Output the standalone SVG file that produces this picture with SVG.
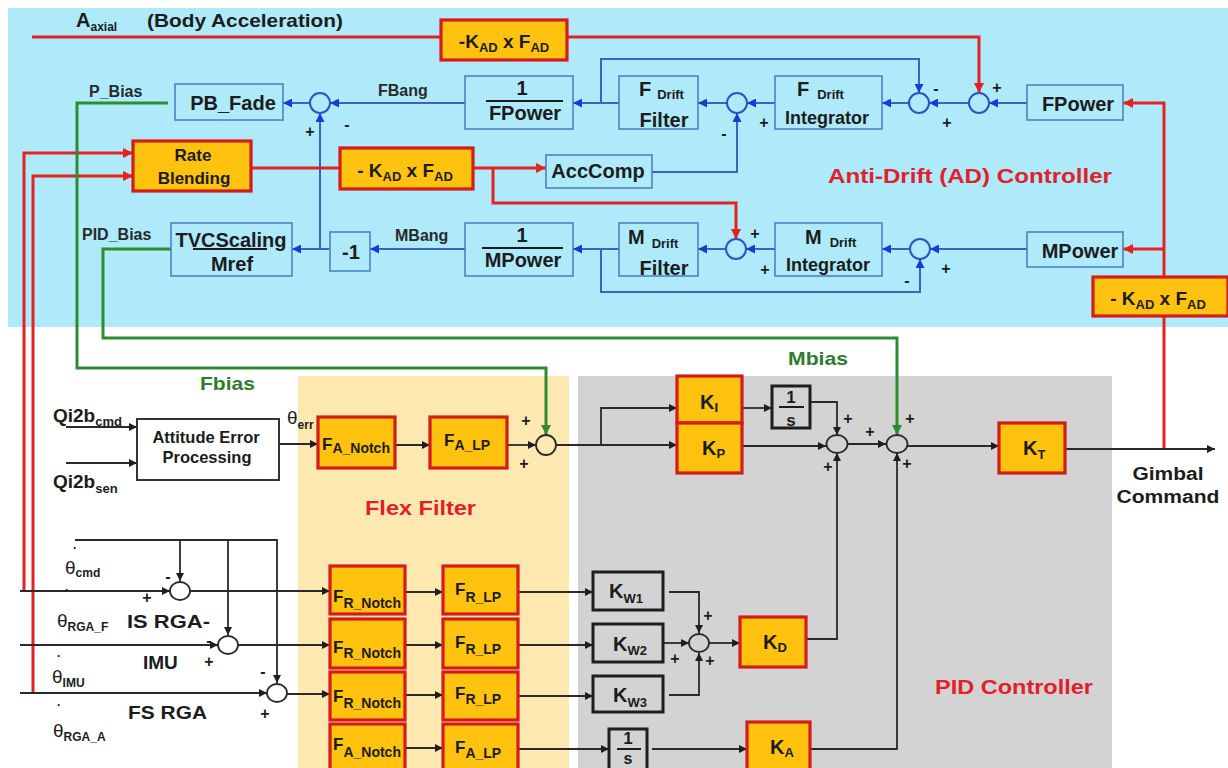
<svg xmlns="http://www.w3.org/2000/svg" width="1228" height="768" viewBox="0 0 1228 768">
<defs>
<style>
text{font-family:"Liberation Sans",Arial,sans-serif;font-weight:bold;fill:#1c1c1c}
.ad{fill:none;stroke:#4a82c8;stroke-width:1.6}
.og{fill:#ffc20e;stroke:#d41c1c;stroke-width:3.2}
.kb{fill:none;stroke:#1e1e1e;stroke-width:3}
.wb{fill:#fff;stroke:#333;stroke-width:2}
.bl{fill:none;stroke:#3a64c4;stroke-width:2}
.rd{fill:none;stroke:#e32222;stroke-width:3}
.gr{fill:none;stroke:#2e8b2e;stroke-width:3}
.dk{fill:none;stroke:#2a2a2a;stroke-width:1.8}
.sb{fill:none;stroke:#2a55c0;stroke-width:2}
.sk{fill:none;stroke:#2a2a2a;stroke-width:1.8}
.sg{font-size:16px;text-anchor:middle}
.lab{font-size:16px;fill:#2a2a2a}
.th{font-weight:normal;font-size:19px}
.dot{font-weight:bold;font-size:12px}
.ttl{fill:#e0202a}
.grn{fill:#2e7d2e}
</style>
<marker id="ab" viewBox="0 0 10 10" refX="10" refY="5" markerWidth="9" markerHeight="9" markerUnits="userSpaceOnUse" orient="auto"><path d="M0,0 L10,5 L0,10 z" fill="#1a3ad6"/></marker>
<marker id="ar" viewBox="0 0 10 10" refX="10" refY="5" markerWidth="10" markerHeight="10" markerUnits="userSpaceOnUse" orient="auto"><path d="M0,0 L10,5 L0,10 z" fill="#e32222"/></marker>
<marker id="ag" viewBox="0 0 10 10" refX="10" refY="5" markerWidth="10" markerHeight="10" markerUnits="userSpaceOnUse" orient="auto"><path d="M0,0 L10,5 L0,10 z" fill="#2e8b2e"/></marker>
<marker id="ak" viewBox="0 0 10 10" refX="10" refY="5" markerWidth="9" markerHeight="8" markerUnits="userSpaceOnUse" orient="auto"><path d="M0,0 L10,5 L0,10 z" fill="#1e1e1e"/></marker>
</defs>

<g id="regions">
<rect x="0" y="0" width="1228" height="768" fill="#ffffff"/>
<rect x="8" y="8" width="1220" height="319" fill="#aeeafa"/>
<rect x="298" y="376" width="271" height="392" fill="#fde9b0"/>
<rect x="578" y="376" width="534" height="392" fill="#d3d3d3"/>
</g>

<g id="connectors">
<path class="bl" d="M1027,103 H989" marker-end="url(#ab)"/>
<path class="bl" d="M969,103 H929" marker-end="url(#ab)"/>
<path class="bl" d="M909,103 H882" marker-end="url(#ab)"/>
<path class="bl" d="M601,103 V59 H919 V93" marker-end="url(#ab)"/>
<path class="bl" d="M775,103 H747" marker-end="url(#ab)"/>
<path class="bl" d="M727,103 H698" marker-end="url(#ab)"/>
<path class="bl" d="M652,172 H737 V113" marker-end="url(#ab)"/>
<path class="bl" d="M619,103 H573" marker-end="url(#ab)"/>
<path class="bl" d="M465,103 H330" marker-end="url(#ab)"/>
<path class="bl" d="M310,103 H283" marker-end="url(#ab)"/>
<path class="bl" d="M320,249 V113" marker-end="url(#ab)"/>
<path class="bl" d="M1027,249 H930" marker-end="url(#ab)"/>
<path class="bl" d="M910,249 H882" marker-end="url(#ab)"/>
<path class="bl" d="M601,249 V292 H920 V259" marker-end="url(#ab)"/>
<path class="bl" d="M775,249 H746" marker-end="url(#ab)"/>
<path class="bl" d="M726,249 H698" marker-end="url(#ab)"/>
<path class="bl" d="M619,249 H573" marker-end="url(#ab)"/>
<path class="bl" d="M465,249 H370" marker-end="url(#ab)"/>
<path class="bl" d="M330,249 H292" marker-end="url(#ab)"/>

<path class="rd" d="M32,37 H441"/>
<path class="rd" d="M567,37 H979 V93" marker-end="url(#ar)"/>
<path class="rd" d="M1164,449 V103 H1123" marker-end="url(#ar)"/>
<path class="rd" d="M1164,249 H1123" marker-end="url(#ar)"/>
<path class="rd" d="M24,591 V153 H133" marker-end="url(#ar)"/>
<path class="rd" d="M33,693 V176 H133" marker-end="url(#ar)"/>
<path class="rd" d="M251,168 H340"/>
<path class="rd" d="M473,168 H546" marker-end="url(#ar)"/>
<path class="rd" d="M493,168 V203 H736 V239" marker-end="url(#ar)"/>

<path class="gr" d="M168,103 H77 V368 H546 V435" marker-end="url(#ag)"/>
<path class="gr" d="M171,249 H103 V338 H897 V435" marker-end="url(#ag)"/>

<path class="dk" d="M66,427 H137" marker-end="url(#ak)"/>
<path class="dk" d="M66,463 H137" marker-end="url(#ak)"/>
<path class="dk" d="M279,444 H318" marker-end="url(#ak)"/>
<path class="dk" d="M395,445 H430" marker-end="url(#ak)"/>
<path class="dk" d="M507,445 H536" marker-end="url(#ak)"/>
<path class="dk" d="M556,445 H677" marker-end="url(#ak)"/>
<path class="dk" d="M601,445 V408 H677" marker-end="url(#ak)"/>
<path class="dk" d="M742,408 H772" marker-end="url(#ak)"/>
<path class="dk" d="M810,402 H837 V435" marker-end="url(#ak)"/>
<path class="dk" d="M742,446 H826" marker-end="url(#ak)"/>
<path class="dk" d="M806,639 H837 V453" marker-end="url(#ak)"/>
<path class="dk" d="M848,444 H886" marker-end="url(#ak)"/>
<path class="dk" d="M810,749 H897 V453" marker-end="url(#ak)"/>
<path class="dk" d="M908,446 H999" marker-end="url(#ak)"/>
<path class="dk" d="M1065,449 H1215" marker-end="url(#ak)"/>
<path class="dk" d="M75,540 H277 V683" marker-end="url(#ak)"/>
<path class="dk" d="M180,540 V581" marker-end="url(#ak)"/>
<path class="dk" d="M228,540 V635" marker-end="url(#ak)"/>
<path class="dk" d="M20,591 H170" marker-end="url(#ak)"/>
<path class="dk" d="M20,645 H218" marker-end="url(#ak)"/>
<path class="dk" d="M20,693 H267" marker-end="url(#ak)"/>
<path class="dk" d="M190,591 H330" marker-end="url(#ak)"/>
<path class="dk" d="M238,645 H330" marker-end="url(#ak)"/>
<path class="dk" d="M287,694 H330" marker-end="url(#ak)"/>
<path class="dk" d="M405,592 H443" marker-end="url(#ak)"/>
<path class="dk" d="M405,645 H443" marker-end="url(#ak)"/>
<path class="dk" d="M405,695 H443" marker-end="url(#ak)"/>
<path class="dk" d="M405,748 H443" marker-end="url(#ak)"/>
<path class="dk" d="M518,592 H593" marker-end="url(#ak)"/>
<path class="dk" d="M518,645 H593" marker-end="url(#ak)"/>
<path class="dk" d="M518,696 H593" marker-end="url(#ak)"/>
<path class="dk" d="M669,592 H699 V633" marker-end="url(#ak)"/>
<path class="dk" d="M663,643 H689" marker-end="url(#ak)"/>
<path class="dk" d="M669,695 H699 V653" marker-end="url(#ak)"/>
<path class="dk" d="M709,643 H740" marker-end="url(#ak)"/>
<path class="dk" d="M518,749 H609" marker-end="url(#ak)"/>
<path class="dk" d="M652,749 H747" marker-end="url(#ak)"/>
</g>

<g id="labels">
<text x="76" y="27" font-size="20">A<tspan font-size="12" dy="4">axial</tspan></text>
<text x="147" y="27" font-size="19" textLength="196" lengthAdjust="spacingAndGlyphs">(Body Acceleration)</text>
<text class="ttl" x="828" y="183" font-size="21" textLength="284" lengthAdjust="spacingAndGlyphs">Anti-Drift (AD) Controller</text>
<text class="ttl" x="365" y="515" font-size="20" textLength="111" lengthAdjust="spacingAndGlyphs">Flex Filter</text>
<text class="ttl" x="935" y="694" font-size="20" textLength="158" lengthAdjust="spacingAndGlyphs">PID Controller</text>
<text class="lab" x="89" y="97">P_Bias</text>
<text class="lab" x="82" y="240">PID_Bias</text>
<text class="lab" x="378" y="96">FBang</text>
<text class="lab" x="395" y="241">MBang</text>
<text class="grn" x="200" y="390" font-size="19" textLength="55" lengthAdjust="spacingAndGlyphs">Fbias</text>
<text class="grn" x="788" y="365" font-size="19" textLength="60" lengthAdjust="spacingAndGlyphs">Mbias</text>
<text x="53" y="422" font-size="19">Qi2b<tspan font-size="13" dy="4">cmd</tspan></text>
<text x="53" y="488" font-size="19">Qi2b<tspan font-size="13" dy="5">sen</tspan></text>
<text x="287" y="424"><tspan class="th">θ</tspan><tspan font-size="12" dy="5">err</tspan></text>
<text x="1168" y="480" font-size="18" text-anchor="middle" textLength="71" lengthAdjust="spacingAndGlyphs">Gimbal</text>
<text x="1168" y="503" font-size="18" text-anchor="middle" textLength="103" lengthAdjust="spacingAndGlyphs">Command</text>
<text class="dot" x="73" y="549">.</text>
<text x="65" y="574"><tspan class="th">θ</tspan><tspan font-size="12" dy="3">cmd</tspan></text>
<text class="dot" x="65" y="591" font-size="10">.</text>
<text x="57" y="627"><tspan class="th">θ</tspan><tspan font-size="12" dy="4">RGA_F</tspan></text>
<text x="127" y="628" font-size="19" textLength="83" lengthAdjust="spacingAndGlyphs">IS RGA-</text>
<text class="dot" x="57" y="657">.</text>
<text x="52" y="683"><tspan class="th">θ</tspan><tspan font-size="12" dy="4">IMU</tspan></text>
<text x="143" y="669" font-size="19">IMU</text>
<text class="dot" x="57" y="706">.</text>
<text x="53" y="737"><tspan class="th">θ</tspan><tspan font-size="12" dy="4">RGA_A</tspan></text>
<text x="128" y="719" font-size="19" textLength="79" lengthAdjust="spacingAndGlyphs">FS RGA</text>
</g>

<g id="signs">
<text class="sg" x="997" y="93">+</text>
<text class="sg" x="936" y="94">-</text>
<text class="sg" x="947" y="128">+</text>
<text class="sg" x="764" y="128">+</text>
<text class="sg" x="724" y="139">-</text>
<text class="sg" x="310" y="137">+</text>
<text class="sg" x="347" y="130">-</text>
<text class="sg" x="946" y="274">+</text>
<text class="sg" x="907" y="286">-</text>
<text class="sg" x="755" y="239">+</text>
<text class="sg" x="765" y="275">+</text>
<text class="sg" x="526" y="426">+</text>
<text class="sg" x="524" y="469">+</text>
<text class="sg" x="848" y="424">+</text>
<text class="sg" x="828" y="472">+</text>
<text class="sg" x="870" y="437">+</text>
<text class="sg" x="910" y="424">+</text>
<text class="sg" x="907" y="469">+</text>
<text class="sg" x="168" y="582">-</text>
<text class="sg" x="147" y="603">+</text>
<text class="sg" x="209" y="646">-</text>
<text class="sg" x="209" y="667">+</text>
<text class="sg" x="263" y="677">-</text>
<text class="sg" x="265" y="719">+</text>
<text class="sg" x="708" y="621">+</text>
<text class="sg" x="675" y="664">+</text>
<text class="sg" x="710" y="666">+</text>
</g>

<g id="sums">
<circle class="sb" cx="979" cy="103" r="10"/>
<circle class="sb" cx="919" cy="103" r="10"/>
<circle class="sb" cx="737" cy="103" r="10"/>
<circle class="sb" cx="320" cy="103" r="10"/>
<circle class="sb" cx="920" cy="249" r="10"/>
<circle class="sb" cx="736" cy="249" r="10"/>
<ellipse class="sk" cx="546" cy="445" rx="10" ry="10"/>
<ellipse class="sk" cx="837" cy="444" rx="10.5" ry="9"/>
<ellipse class="sk" cx="897" cy="444" rx="10.5" ry="9"/>
<ellipse class="sk" cx="180" cy="591" rx="10" ry="9"/>
<ellipse class="sk" cx="228" cy="645" rx="10" ry="9"/>
<ellipse class="sk" cx="277" cy="693" rx="10" ry="9"/>
<ellipse class="sk" cx="699" cy="643" rx="10" ry="9"/>
</g>

<g id="kad-top"><rect class="og" x="441" y="20" width="126" height="40"/>
<text x="504" y="48" text-anchor="middle" font-size="19">-K<tspan font-size="13" dy="4">AD</tspan><tspan dy="-4"> x F</tspan><tspan font-size="13" dy="4">AD</tspan></text></g>
<g id="kad-mid"><rect class="og" x="340" y="148" width="133" height="41"/>
<text x="405" y="177" text-anchor="middle" font-size="19">- K<tspan font-size="13" dy="4">AD</tspan><tspan dy="-4"> x F</tspan><tspan font-size="13" dy="4">AD</tspan></text></g>
<g id="kad-right"><rect class="og" x="1093" y="277" width="135" height="39"/>
<text x="1158" y="305" text-anchor="middle" font-size="19">- K<tspan font-size="13" dy="4">AD</tspan><tspan dy="-4"> x F</tspan><tspan font-size="13" dy="4">AD</tspan></text></g>

<g id="fpower"><rect class="ad" x="1027" y="85" width="96" height="35"/><text x="1078" y="111" text-anchor="middle" font-size="20">FPower</text></g>
<g id="mpower"><rect class="ad" x="1027" y="232" width="96" height="35"/><text x="1080" y="258" text-anchor="middle" font-size="20">MPower</text></g>
<g id="fdrift-int"><rect class="ad" x="775" y="76" width="107" height="53"/>
<text x="797" y="96" font-size="20">F<tspan font-size="13" dx="8" dy="3">Drift</tspan></text>
<text x="827" y="124" text-anchor="middle" font-size="18">Integrator</text></g>
<g id="mdrift-int"><rect class="ad" x="775" y="223" width="107" height="53"/>
<text x="805" y="244" font-size="20">M<tspan font-size="13" dx="8" dy="3">Drift</tspan></text>
<text x="828" y="271" text-anchor="middle" font-size="18">Integrator</text></g>
<g id="fdrift-filter"><rect class="ad" x="619" y="76" width="79" height="53"/>
<text x="639" y="96" font-size="20">F<tspan font-size="13" dx="6" dy="3">Drift</tspan></text>
<text x="664" y="127" text-anchor="middle" font-size="20">Filter</text></g>
<g id="mdrift-filter"><rect class="ad" x="619" y="223" width="79" height="53"/>
<text x="628" y="244" font-size="20">M<tspan font-size="13" dx="7" dy="4">Drift</tspan></text>
<text x="664" y="275" text-anchor="middle" font-size="20">Filter</text></g>
<g id="inv-fpower"><rect class="ad" x="465" y="76" width="108" height="53"/>
<text x="522" y="95" text-anchor="middle" font-size="20">1</text>
<line x1="486" y1="101" x2="563" y2="101" stroke="#1c1c1c" stroke-width="2"/>
<text x="525" y="120" text-anchor="middle" font-size="20">FPower</text></g>
<g id="inv-mpower"><rect class="ad" x="465" y="223" width="108" height="53"/>
<text x="522" y="242" text-anchor="middle" font-size="20">1</text>
<line x1="482" y1="248" x2="563" y2="248" stroke="#1c1c1c" stroke-width="2"/>
<text x="523" y="267" text-anchor="middle" font-size="20">MPower</text></g>
<g id="pb-fade"><rect class="ad" x="175" y="84" width="108" height="36"/><text x="233" y="110" text-anchor="middle" font-size="20">PB_Fade</text></g>
<g id="neg1"><rect class="ad" x="330" y="232" width="40" height="39"/><text x="351" y="259" text-anchor="middle" font-size="20">-1</text></g>
<g id="tvc"><rect class="ad" x="171" y="223" width="121" height="53"/>
<text x="231" y="247" text-anchor="middle" font-size="20">TVCScaling</text>
<line x1="193" y1="249" x2="267" y2="249" stroke="#1c1c1c" stroke-width="1.8"/>
<text x="232" y="271" text-anchor="middle" font-size="20">Mref</text></g>
<g id="acccomp"><rect class="ad" x="546" y="155" width="106" height="33"/><text x="598" y="178" text-anchor="middle" font-size="20">AccComp</text></g>
<g id="rate-blending"><rect class="og" x="133" y="141" width="118" height="50"/>
<text x="193" y="161" text-anchor="middle" font-size="17">Rate</text>
<text x="194" y="184" text-anchor="middle" font-size="17">Blending</text></g>

<g id="attitude"><rect class="wb" x="137" y="419" width="142" height="61"/>
<text x="206" y="443" text-anchor="middle" font-size="16.5">Attitude Error</text>
<text x="207" y="463" text-anchor="middle" font-size="16.5">Processing</text></g>
<g id="fa-notch-1"><rect class="og" x="318" y="417" width="77" height="51"/>
<text x="322" y="450" font-size="17">F<tspan font-size="14" dy="3">A_Notch</tspan></text></g>
<g id="fa-lp-1"><rect class="og" x="430" y="417" width="77" height="51"/>
<text x="444" y="446" font-size="17">F<tspan font-size="14" dy="4">A_LP</tspan></text></g>
<g id="ki"><rect class="og" x="677" y="376" width="65" height="47"/>
<text x="700" y="409" font-size="20">K<tspan font-size="13" dy="3">I</tspan></text></g>
<g id="kp"><rect class="og" x="677" y="423" width="65" height="50"/>
<text x="702" y="455" font-size="20">K<tspan font-size="13" dy="3">P</tspan></text></g>
<g id="int-1"><rect class="kb" x="772" y="386" width="38" height="42" stroke-width="2"/>
<text x="791" y="403" text-anchor="middle" font-size="17">1</text>
<line x1="779" y1="407" x2="804" y2="407" stroke="#1c1c1c" stroke-width="2"/>
<text x="791" y="426" text-anchor="middle" font-size="17">s</text></g>
<g id="kt"><rect class="og" x="999" y="423" width="66" height="50"/>
<text x="1023" y="455" font-size="20">K<tspan font-size="13" dy="4">T</tspan></text></g>

<g id="fr-notch-1"><rect class="og" x="330" y="566" width="75" height="48"/>
<text x="333" y="602" font-size="17">F<tspan font-size="14" dy="6">R_Notch</tspan></text></g>
<g id="fr-notch-2"><rect class="og" x="330" y="619" width="75" height="49"/>
<text x="333" y="653" font-size="17">F<tspan font-size="14" dy="5">R_Notch</tspan></text></g>
<g id="fr-notch-3"><rect class="og" x="330" y="672" width="75" height="48"/>
<text x="333" y="702" font-size="17">F<tspan font-size="14" dy="6">R_Notch</tspan></text></g>
<g id="fa-notch-2"><rect class="og" x="330" y="724" width="75" height="50"/>
<text x="333" y="750" font-size="17">F<tspan font-size="14" dy="7">A_Notch</tspan></text></g>
<g id="fr-lp-1"><rect class="og" x="443" y="566" width="75" height="48"/>
<text x="455" y="595" font-size="17">F<tspan font-size="14" dy="7">R_LP</tspan></text></g>
<g id="fr-lp-2"><rect class="og" x="443" y="619" width="75" height="49"/>
<text x="455" y="648" font-size="17">F<tspan font-size="14" dy="6">R_LP</tspan></text></g>
<g id="fr-lp-3"><rect class="og" x="443" y="672" width="75" height="48"/>
<text x="455" y="699" font-size="17">F<tspan font-size="14" dy="5">R_LP</tspan></text></g>
<g id="fa-lp-2"><rect class="og" x="443" y="724" width="75" height="50"/>
<text x="455" y="753" font-size="17">F<tspan font-size="14" dy="5">A_LP</tspan></text></g>
<g id="kw1"><rect class="kb" x="593" y="572" width="70" height="38"/>
<text x="609" y="598" font-size="20">K<tspan font-size="13" dy="5">W1</tspan></text></g>
<g id="kw2"><rect class="kb" x="593" y="624" width="70" height="38"/>
<text x="613" y="651" font-size="20">K<tspan font-size="13" dy="4">W2</tspan></text></g>
<g id="kw3"><rect class="kb" x="593" y="676" width="70" height="36"/>
<text x="613" y="702" font-size="20">K<tspan font-size="13" dy="5">W3</tspan></text></g>
<g id="kd"><rect class="og" x="740" y="617" width="66" height="50"/>
<text x="763" y="649" font-size="20">K<tspan font-size="13" dy="3">D</tspan></text></g>
<g id="int-2"><rect class="kb" x="609" y="729" width="38" height="45" stroke-width="2"/>
<text x="628" y="744" text-anchor="middle" font-size="17">1</text>
<line x1="617" y1="749" x2="641" y2="749" stroke="#1c1c1c" stroke-width="2"/>
<text x="628" y="764" text-anchor="middle" font-size="16">s</text></g>
<g id="ka"><rect class="og" x="747" y="722" width="63" height="52"/>
<text x="770" y="754" font-size="20">K<tspan font-size="13" dy="3">A</tspan></text></g>
</svg>
